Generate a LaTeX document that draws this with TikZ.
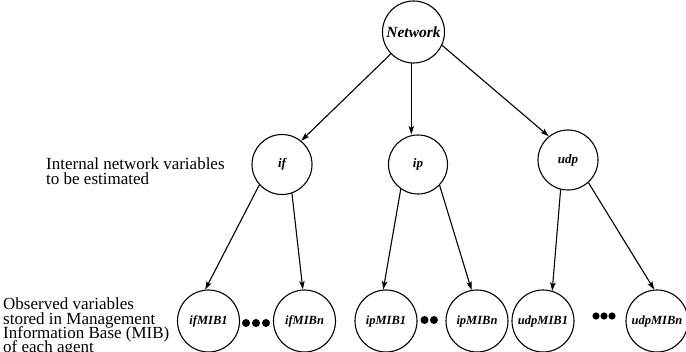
\documentclass[tikz,border=0pt]{standalone}
\usepackage{fontspec}
\setmainfont{Liberation Serif}
\usetikzlibrary{arrows.meta}
\newcommand\mytightlines{\lineskiplimit=-20pt\relax}
\begin{document}
\begin{tikzpicture}[x=1pt,y=-1pt,
  base/.style={circle,draw,line width=1.1pt,inner sep=0pt,font=\bfseries\itshape},
  topvar/.style={base,minimum size=62pt,font=\fontsize{15.5}{16}\selectfont\bfseries\itshape},
  midvar/.style={base,minimum size=60pt,font=\fontsize{13}{14}\selectfont\bfseries\itshape},
  mibvar/.style={base,minimum size=62pt,font=\fontsize{12.5}{14}\selectfont\bfseries\itshape},
  lbl/.style={anchor=north west,align=left,inner sep=0pt,font=\fontsize{17}{14.3}\selectfont\mytightlines},
  edge/.style={line width=1.1pt,-{Stealth[length=8.5pt,width=5.5pt,inset=2pt]}},
  dot/.style={fill=black}]
\useasboundingbox (0,0) rectangle (686,352);
\clip (0,0) rectangle (686,352);

\node[topvar] (net) at (413.5,32) {Network};
\node[midvar] (if) at (282,164.5) {if};
\node[midvar,minimum size=59pt] (ip) at (418,164.5) {ip};
\node[midvar] (udp) at (568,160) {udp};

\node[mibvar] (ifMIB1) at (208.5,321) {ifMIB1};
\node[mibvar] (ifMIBn) at (304.5,321) {ifMIBn};
\node[mibvar] (ipMIB1) at (386,321) {ipMIB1};
\node[mibvar] (ipMIBn) at (477,321) {ipMIBn};
\node[mibvar] (udpMIB1) at (543,321) {udpMIB1};
\node[mibvar] (udpMIBn) at (657,321) {udpMIBn};

\node[lbl] (internal) at (46,158) {Internal network variables\\to be estimated};
\node[lbl] (observed) at (3,298) {Observed variables\\stored in Management\\Information Base (MIB)\\of each agent};

\draw[edge] (net.224) -- (if.51);
\draw[edge] (net.266) -- (net.266 |- ip.north);
\draw[edge] (net.335) -- (udp.129);

\draw[edge] (if.222) -- (ifMIB1.96);
\draw[edge] (if.289) -- (ifMIBn.93);
\draw[edge] (ip.235) -- (ipMIB1.95);
\draw[edge] (ip.316) -- (ipMIBn.100);
\draw[edge] (udp.256) -- (udpMIB1.73);
\draw[edge] (udp.312) -- (udpMIBn.95);

\fill[dot] (246,323) circle (4pt) (256,323) circle (4pt) (266,323) circle (4pt);
\fill[dot] (424.5,320) circle (4pt) (434,320) circle (4pt);
\fill[dot] (596,316) circle (3.6pt) (604,316) circle (3.6pt) (612,316) circle (3.6pt);
\end{tikzpicture}
\end{document}
